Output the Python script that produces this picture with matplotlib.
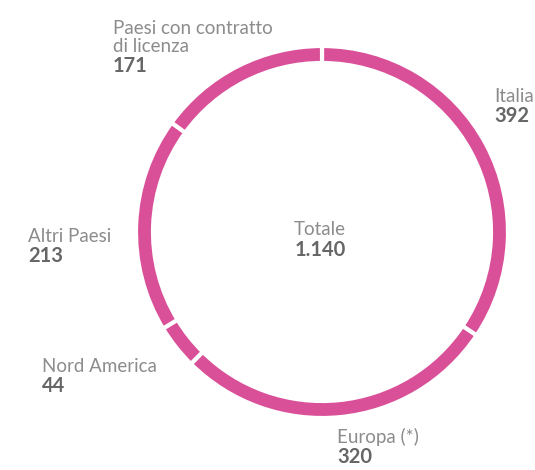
import matplotlib
matplotlib.use('Agg')
import matplotlib.pyplot as plt

# Data
categories = ['Italia', 'Europa (*)', 'Nord America', 'Altri Paesi',
              'Paesi con contratto\ndi licenza']
values = [392, 320, 44, 213, 171]
total = sum(values)

ring_color = '#D94F98'
label_color = '#8c8c8c'
value_color = '#666666'

W, H = 535, 470
fig = plt.figure(figsize=(W / 100, H / 100), dpi=100)
ax = fig.add_axes([0, 0, 1, 1])

# ring, clockwise from 12 o'clock
ax.pie(values, colors=[ring_color] * len(values), startangle=90,
       counterclock=False, center=(322, H - 232), radius=186,
       wedgeprops=dict(width=17, edgecolor='white', linewidth=3))

ax.set_xlim(0, W)
ax.set_ylim(0, H)
ax.set_aspect('equal')
ax.axis('off')

plt.rcParams['font.family'] = ['Lato', 'DejaVu Sans']

# label anchor: (x, baseline of the last label line) in pixels
label_pos = [(494, 102), (337, 443), (42, 372), (28, 242), (113, 52)]

for cat, val, (x, yb) in zip(categories, values, label_pos):
    ax.text(x, H - yb, cat, ha='left', va='baseline', fontsize=13.5,
            color=label_color, linespacing=1.05)
    ax.text(x, H - yb - 20, str(val), ha='left', va='baseline', fontsize=14.5,
            fontweight='bold', color=value_color)

ax.text(320, H - 235, 'Totale', ha='center', va='baseline', fontsize=13.5,
        color=label_color)
ax.text(320, H - 256, f'{total:,}'.replace(',', '.'), ha='center',
        va='baseline', fontsize=14.5, fontweight='bold', color=value_color)

plt.savefig('out.png', dpi=100)
